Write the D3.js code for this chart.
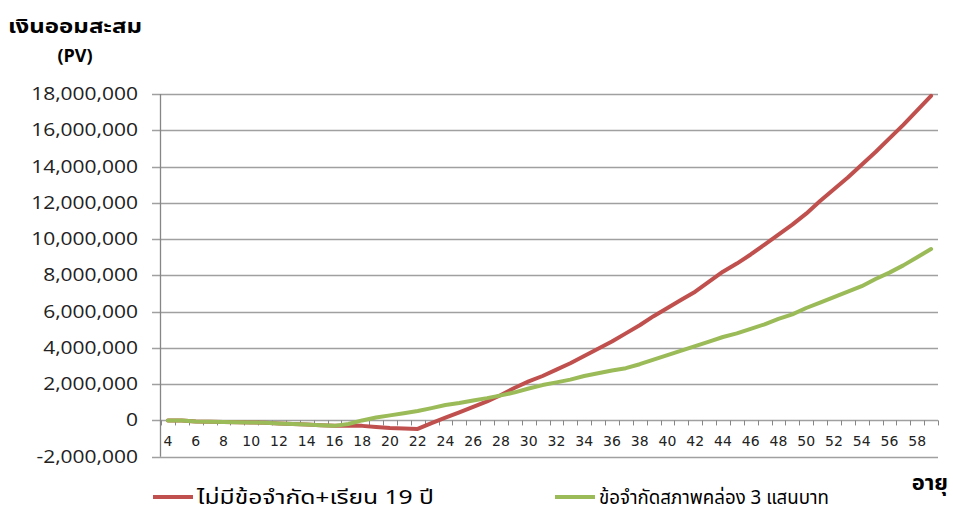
<!DOCTYPE html>
<html>
<head>
<meta charset="utf-8">
<script src="https://cdn.jsdelivr.net/npm/d3@7"></script>
<style>
  body { margin: 0; background: #fff; }
  text { fill: #000; }
</style>
</head>
<body>
<svg id="chart"></svg>
<script>
const ages = d3.range(4, 60);

// ไม่มีข้อจำกัด+เรียน 19 ปี
const noLimit = [
  0, 0, -60000, -70000, -80000, -100000, -110000, -130000, -170000, -200000,
  -230000, -270000, -300000, -280000, -300000, -360000, -420000, -440000, -470000,
  -150000, 150000, 450000, 750000, 1050000, 1400000, 1800000, 2150000, 2450000,
  2800000, 3150000, 3550000, 3950000, 4350000, 4800000, 5250000, 5750000, 6200000,
  6650000, 7100000, 7650000, 8200000, 8650000, 9150000, 9700000, 10250000, 10800000,
  11400000, 12100000, 12750000, 13400000, 14100000, 14800000, 15550000, 16300000,
  17100000, 17900000
];

// ข้อจำกัดสภาพคล่อง 3 แสนบาท
const liquidity = [
  0, 0, -60000, -70000, -80000, -100000, -110000, -130000, -170000, -200000,
  -230000, -270000, -300000, -200000, 0, 160000, 280000, 400000, 520000,
  680000, 850000, 960000, 1100000, 1230000, 1380000, 1550000, 1760000, 1950000,
  2100000, 2250000, 2450000, 2600000, 2750000, 2880000, 3100000, 3350000, 3600000,
  3850000, 4100000, 4350000, 4600000, 4800000, 5050000, 5300000, 5600000, 5850000,
  6200000, 6500000, 6800000, 7100000, 7400000, 7800000, 8150000, 8550000,
  9000000, 9450000
];

const yTicks = d3.range(-2000000, 18000001, 2000000);
const xLabels = ages.filter(a => a % 2 === 0);

const series = [
  { name: "ไม่มีข้อจำกัด+เรียน 19 ปี", values: noLimit, color: "#C0504D" },
  { name: "ข้อจำกัดสภาพคล่อง 3 แสนบาท", values: liquidity, color: "#9BBB59" }
];

const width = 953;
const height = 512;
const thai = "Tahoma, 'Noto Sans Thai', 'Noto Sans', sans-serif";

const svg = d3.select("#chart")
  .attr("width", width)
  .attr("height", height);

const x = d3.scalePoint()
  .domain(ages)
  .range([161, 938])
  .padding(0.5);
const step = x.step();

const y = d3.scaleLinear()
  .domain([-2000000, 18000000])
  .range([456.7, 94]);

// gridlines
svg.append("g")
  .selectAll("line")
  .data(yTicks)
  .enter().append("line")
    .attr("x1", 152)
    .attr("x2", 938)
    .attr("y1", d => Math.round(y(d)) + 0.5)
    .attr("y2", d => Math.round(y(d)) + 0.5)
    .attr("stroke", "#a0a0a0")
    .attr("stroke-width", 1.3);

// y axis line
svg.append("line")
  .attr("x1", 160.5).attr("x2", 160.5)
  .attr("y1", y(18000000)).attr("y2", y(-2000000))
  .attr("stroke", "#868686")
  .attr("stroke-width", 1.3);

// y labels (the source is stretched sideways a bit)
const fmt = d => d3.format(",")(d).replace("\u2212", "-");
svg.append("g")
  .selectAll("text")
  .data(yTicks)
  .enter().append("text")
    .attr("transform", d => `translate(138,${y(d) + 6}) scale(1.2,1)`)
    .attr("text-anchor", "end")
    .style("font-family", "'Open Sans', sans-serif")
    .style("font-size", "17.5px")
    .style("fill", "#222")
    .text(fmt);

// category tick marks on the zero line
const bounds = d3.range(0, ages.length + 1).map(i => 161 + i * step);
svg.append("g")
  .selectAll("line")
  .data(bounds)
  .enter().append("line")
    .attr("x1", d => Math.round(d) + 0.5)
    .attr("x2", d => Math.round(d) + 0.5)
    .attr("y1", y(0))
    .attr("y2", y(0) + 5)
    .attr("stroke", "#868686");

svg.append("g")
  .selectAll("text")
  .data(xLabels)
  .enter().append("text")
    .attr("x", d => x(d))
    .attr("y", 446)
    .attr("text-anchor", "middle")
    .style("font-family", "'DejaVu Sans', sans-serif")
    .style("font-size", "14px")
    .style("fill", "#222")
    .text(d => d);

// lines
const line = d3.line()
  .x((d, i) => x(ages[i]))
  .y(d => y(d));

svg.append("g")
  .selectAll("path")
  .data(series)
  .enter().append("path")
    .attr("d", s => line(s.values))
    .attr("fill", "none")
    .attr("stroke", s => s.color)
    .attr("stroke-width", 4)
    .attr("stroke-linejoin", "round")
    .attr("stroke-linecap", "round");

// titles
svg.append("text")
  .attr("x", 8).attr("y", 33)
  .attr("textLength", 134)
  .attr("lengthAdjust", "spacingAndGlyphs")
  .style("font-family", thai)
  .style("font-size", "20px")
  .style("font-weight", "bold")
  .text("เงินออมสะสม");

svg.append("text")
  .attr("x", 75).attr("y", 62)
  .attr("text-anchor", "middle")
  .style("font-family", thai)
  .style("font-size", "18px")
  .style("font-weight", "bold")
  .text("(PV)");

svg.append("text")
  .attr("x", 948).attr("y", 490)
  .attr("text-anchor", "end")
  .style("font-family", thai)
  .style("font-size", "22px")
  .style("font-weight", "bold")
  .text("อายุ");

// legend
const legendX = [153, 555];
const legendW = [237, 230];
const legend = svg.append("g")
  .selectAll("g")
  .data(series)
  .enter().append("g")
    .attr("transform", (d, i) => `translate(${legendX[i]},497)`);

legend.append("line")
  .attr("x1", 0).attr("x2", 40)
  .attr("stroke", d => d.color)
  .attr("stroke-width", 4);

legend.append("text")
  .attr("x", 44).attr("y", 7)
  .attr("textLength", (d, i) => legendW[i])
  .attr("lengthAdjust", "spacingAndGlyphs")
  .style("font-family", thai)
  .style("font-size", "20px")
  .text(d => d.name);
</script>
</body>
</html>
